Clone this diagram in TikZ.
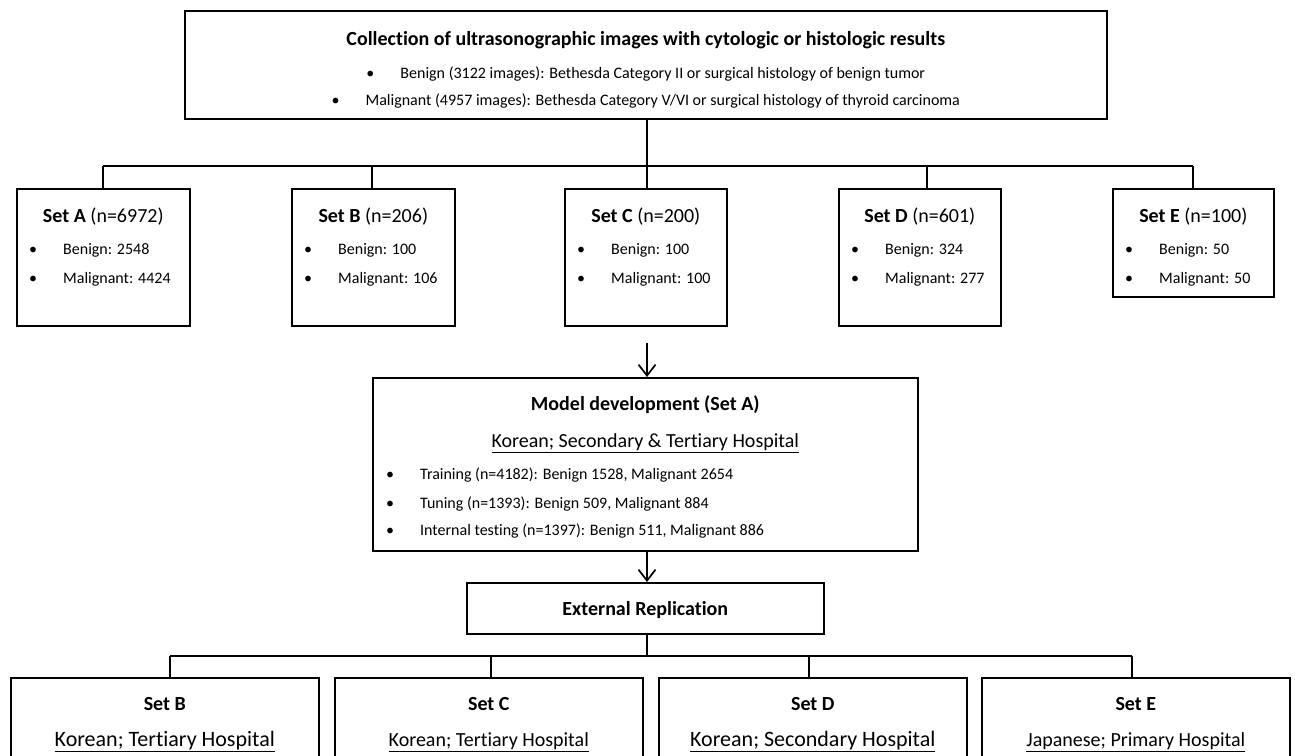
\documentclass[tikz,border=0pt]{standalone}
\usepackage{fontspec}
\setmainfont[Ligatures=NoCommon]{Carlito}
\usetikzlibrary{arrows.meta,calc}

\begin{document}
\begin{tikzpicture}[x=1pt,y=-1pt,
    box/.style={draw,line width=1.6pt,inner sep=0pt,anchor=north west},
    link/.style={line width=1.9pt},
    arrow/.style={line width=1.9pt,-{Straight Barb[length=11pt,width=17pt,line width=1.7pt]}},
    title/.style={anchor=mid,inner sep=0pt,font=\fontsize{20}{24}\selectfont},
    place/.style={anchor=mid,inner sep=0pt},
    item/.style={anchor=mid west,inner sep=0pt,font=\fontsize{16}{19}\selectfont},
    itemc/.style={item,anchor=mid}]
        % Page size
        \useasboundingbox (0,0) rectangle (1295,755);
        \clip (0,0) rectangle (1295,755);

        % Collection box (top)
        \node[box,minimum width=922pt,minimum height=108pt] (collect) at (184,10) {};
        \node[title] (collect-t) at ($(collect.north)+(0,33)$) {\bfseries Collection of ultrasonographic images with cytologic or histologic results};
        \node[itemc] (collect-b) at ($(collect.north)+(0,66)$) {\makebox[34pt][l]{\textbullet}Benign (3122 images): Bethesda Category II or surgical histology of benign tumor};
        \node[itemc] (collect-m) at ($(collect.north)+(0,93)$) {\makebox[34pt][l]{\textbullet}Malignant (4957 images): Bethesda Category V/VI or surgical histology of thyroid carcinoma};

        % Data sets A-E
        \foreach \s/\xl/\w/\h/\n/\bn/\mg/\cx in {A/16/173/137/6972/2548/4424/103,
                B/291/163/137/206/100/106/372, C/564/162/137/200/100/100/647,
                D/838/162/137/601/324/277/927, E/1112/161/108/100/50/50/1193} {
            \node[box,minimum width=\w pt,minimum height=\h pt] (set\s) at (\xl,188) {};
            \node[title] (set\s-t) at ($(set\s.north)+(0,32)$) {\textbf{Set \s} (n=\n)};
            \node[item] (set\s-b) at ($(set\s.north west)+(13,64)$) {\makebox[34pt][l]{\textbullet}Benign: \bn};
            \node[item] (set\s-m) at ($(set\s.north west)+(13,93)$) {\makebox[34pt][l]{\textbullet}Malignant: \mg};
            \coordinate (bar\s) at (\cx,166);
            \draw[link] (bar\s) -- (bar\s |- set\s.north);
        }
        \draw[link] (barA) -- (barE);
        \draw[link] (barC |- collect.south) -- (barC);

        % Model development box
        \node[box,minimum width=545pt,minimum height=173pt] (model) at (372,377) {};
        \node[title] (model-t) at ($(model.north)+(0,31)$) {\bfseries Model development (Set A)};
        \node[title] (model-p) at ($(model.north)+(0,68)$) {\underline{Korean; Secondary \& Tertiary Hospital}};
        \node[item] (model-1) at ($(model.north west)+(14,100)$) {\makebox[34pt][l]{\textbullet}Training (n=4182): Benign 1528, Malignant 2654};
        \node[item] (model-2) at ($(model.north west)+(14,129)$) {\makebox[34pt][l]{\textbullet}Tuning (n=1393): Benign 509, Malignant 884};
        \node[item] (model-3) at ($(model.north west)+(14,156)$) {\makebox[34pt][l]{\textbullet}Internal testing (n=1397): Benign 511, Malignant 886};

        % External replication box
        \node[box,minimum width=357pt,minimum height=51pt,text depth=0pt,font=\fontsize{20}{24}\selectfont] (extrep) at (466,582) {\bfseries External Replication};

        % Arrows
        \coordinate (arrC) at (647,343);
        \draw[arrow] (arrC) -- (arrC |- model.north);
        \draw[arrow] (arrC |- model.south) -- (arrC |- extrep.north);

        % Replication sets (bottom, cut off)
        \foreach \s/\xl/\cx/\where/\fs in {B/10/170/Korean; Tertiary Hospital/22,
                C/334/491/Korean; Tertiary Hospital/20, D/658/809/Korean; Secondary Hospital/22,
                E/981/1132/Japanese; Primary Hospital/20} {
            \node[box,minimum width=308pt,minimum height=130pt] (rep\s) at (\xl,677) {};
            \node[title] (rep\s-t) at ($(rep\s.north)+(0,31)$) {\bfseries Set \s};
            \node[place,font=\fontsize{\fs}{\fs}\selectfont] (rep\s-p) at ($(rep\s.north)+(0,67)$) {\underline{\where}};
            \coordinate (low\s) at (\cx,656);
            \draw[link] (low\s) -- (low\s |- rep\s.north);
        }
        \draw[link] (lowB) -- (lowE);
        \draw[link] (arrC |- extrep.south) -- (arrC |- lowB);
\end{tikzpicture}
\end{document}
